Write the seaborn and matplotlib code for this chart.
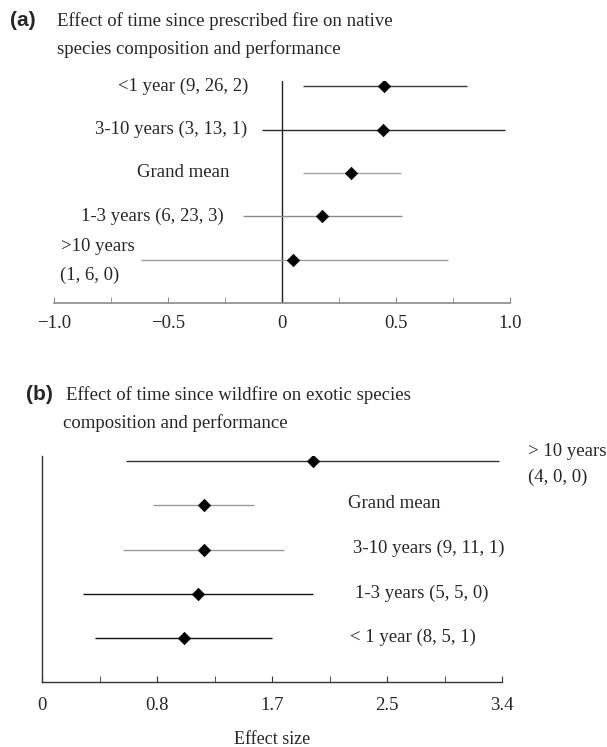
import matplotlib

matplotlib.use("Agg")

import matplotlib.pyplot as plt
import pandas as pd
import seaborn as sns


# panel (a): time since prescribed fire, native species
A_LABELS = ["<1 year (9, 26, 2)", "3-10 years (3, 13, 1)", "Grand mean", "1-3 years (6, 23, 3)", ">10 years"]
A_MEAN = [0.447, 0.443, 0.303, 0.175, 0.048]
A_LOW = [0.092, -0.088, 0.092, -0.171, -0.618]
A_HIGH = [0.81, 0.978, 0.522, 0.526, 0.73]
A_TICKS = [-1.0, -0.5, 0.0, 0.5, 1.0]
A_TICK_LABELS = ["\u22121.0", "\u22120.5", "0", "0.5", "1.0"]
A_MINOR = [-0.75, -0.25, 0.25, 0.75]

# panel (b): time since wildfire, exotic species
B_LABELS = ["> 10 years", "Grand mean", "3-10 years (9, 11, 1)", "1-3 years (5, 5, 0)", "< 1 year (8, 5, 1)"]
B_MEAN = [2.0, 1.20, 1.20, 1.15, 1.05]
B_LOW = [0.62, 0.82, 0.60, 0.30, 0.39]
B_HIGH = [3.38, 1.57, 1.79, 2.0, 1.70]
B_TICKS = [0.0, 0.85, 1.7, 2.55, 3.4]
B_TICK_LABELS = ["0", "0.8", "1.7", "2.5", "3.4"]
B_MINOR = [0.425, 1.275, 2.125, 2.975]

A_COLORS = ["#3a3a3a", "#2a2a2a", "#a0a0a0", "#8a8a8a", "#9a9a9a"]
B_COLORS = ["#333333", "#9a9a9a", "#9a9a9a", "#111111", "#111111"]

W, H = 607, 747
SERIF = "Liberation Serif"
FS = 13.5


def px_axes(fig, left, right, top, bottom):
    return fig.add_axes([left / W, 1 - bottom / H, (right - left) / W, (bottom - top) / H])


def draw_forest(ax, labels, mean, low, high, colors):
    df = pd.DataFrame({"label": labels, "mean": mean, "low": low, "high": high})
    df["pos"] = range(len(df))
    ax.hlines(df["pos"], df["low"], df["high"], colors=colors, linewidth=1.0, zorder=2)
    sns.scatterplot(data=df, x="mean", y="pos", marker="D", s=40, color="black",
                    edgecolor="black", linewidth=0.5, ax=ax, zorder=3, legend=False)
    ax.set_ylim(5, -0.12)
    ax.set_yticks([])
    ax.set_xlabel("")
    ax.set_ylabel("")
    return df


def main():
    sns.set_style("white")
    plt.rcParams["font.family"] = [SERIF, "DejaVu Serif"]

    fig = plt.figure(figsize=(W / 100, H / 100), dpi=100)

    # ---- (a)
    ax = px_axes(fig, 54, 510, 81, 303)
    draw_forest(ax, A_LABELS, A_MEAN, A_LOW, A_HIGH, A_COLORS)
    ax.set_xlim(-1, 1)
    ax.axvline(0, color="#222222", linewidth=1.0, zorder=1)
    for side in ["left", "right", "top"]:
        ax.spines[side].set_visible(False)
    ax.spines["bottom"].set_color("#8a8a8a")
    ax.spines["bottom"].set_linewidth(1.2)
    ax.set_xticks(A_TICKS, A_TICK_LABELS)
    ax.set_xticks(A_MINOR, minor=True)
    ax.tick_params(axis="x", which="both", direction="in", length=4, color="#8a8a8a",
                   labelsize=FS, pad=9, bottom=True)

    a_text = [(-0.149, 0), (-0.154, 1), (-0.232, 2), (-0.254, 3)]
    for x, i in a_text:
        ax.text(x, i, A_LABELS[i], ha="right", va="center", fontsize=FS, clip_on=False)
    ax.text(-0.969, 3.70, A_LABELS[4], ha="left", va="center", fontsize=FS, clip_on=False)
    ax.text(-0.975, 4.37, "(1, 6, 0)", ha="left", va="center", fontsize=FS, clip_on=False)

    # ---- (b)
    bx = px_axes(fig, 42, 502, 456, 682)
    draw_forest(bx, B_LABELS, B_MEAN, B_LOW, B_HIGH, B_COLORS)
    bx.set_xlim(0, 3.4)
    for side in ["right", "top"]:
        bx.spines[side].set_visible(False)
    for side in ["left", "bottom"]:
        bx.spines[side].set_color("#333333")
        bx.spines[side].set_linewidth(1.0)
    bx.set_xticks(B_TICKS, B_TICK_LABELS)
    bx.set_xticks(B_MINOR, minor=True)
    bx.tick_params(axis="x", which="both", direction="in", length=4, color="#333333",
                   labelsize=FS, pad=11, bottom=True)
    bx.set_xlabel("Effect size", fontsize=13, labelpad=12)

    b_text = [(3.59, -0.23, B_LABELS[0]), (3.59, 0.36, "(4, 0, 0)"), (2.26, 0.95, B_LABELS[1]),
              (2.30, 1.97, B_LABELS[2]), (2.31, 3.0, B_LABELS[3]), (2.28, 3.99, B_LABELS[4])]
    for x, y, s in b_text:
        bx.text(x, y, s, ha="left", va="center", fontsize=FS, clip_on=False)

    # ---- panel titles
    bold = ["Liberation Sans", "DejaVu Sans"]
    fig.text(10 / W, 1 - 21 / H, "(a)", fontsize=15, fontweight="bold", family=bold, va="center")
    fig.text(57 / W, 1 - 21 / H, "Effect of time since prescribed fire on native",
             fontsize=FS, va="center")
    fig.text(57 / W, 1 - 49 / H, "species composition and performance", fontsize=FS, va="center")
    fig.text(26 / W, 1 - 395 / H, "(b)", fontsize=15, fontweight="bold", family=bold, va="center")
    fig.text(66 / W, 1 - 395 / H, "Effect of time since wildfire on exotic species",
             fontsize=FS, va="center")
    fig.text(63 / W, 1 - 423 / H, "composition and performance", fontsize=FS, va="center")

    fig.savefig("out.png", dpi=100)
    plt.close(fig)


if __name__ == "__main__":
    main()
